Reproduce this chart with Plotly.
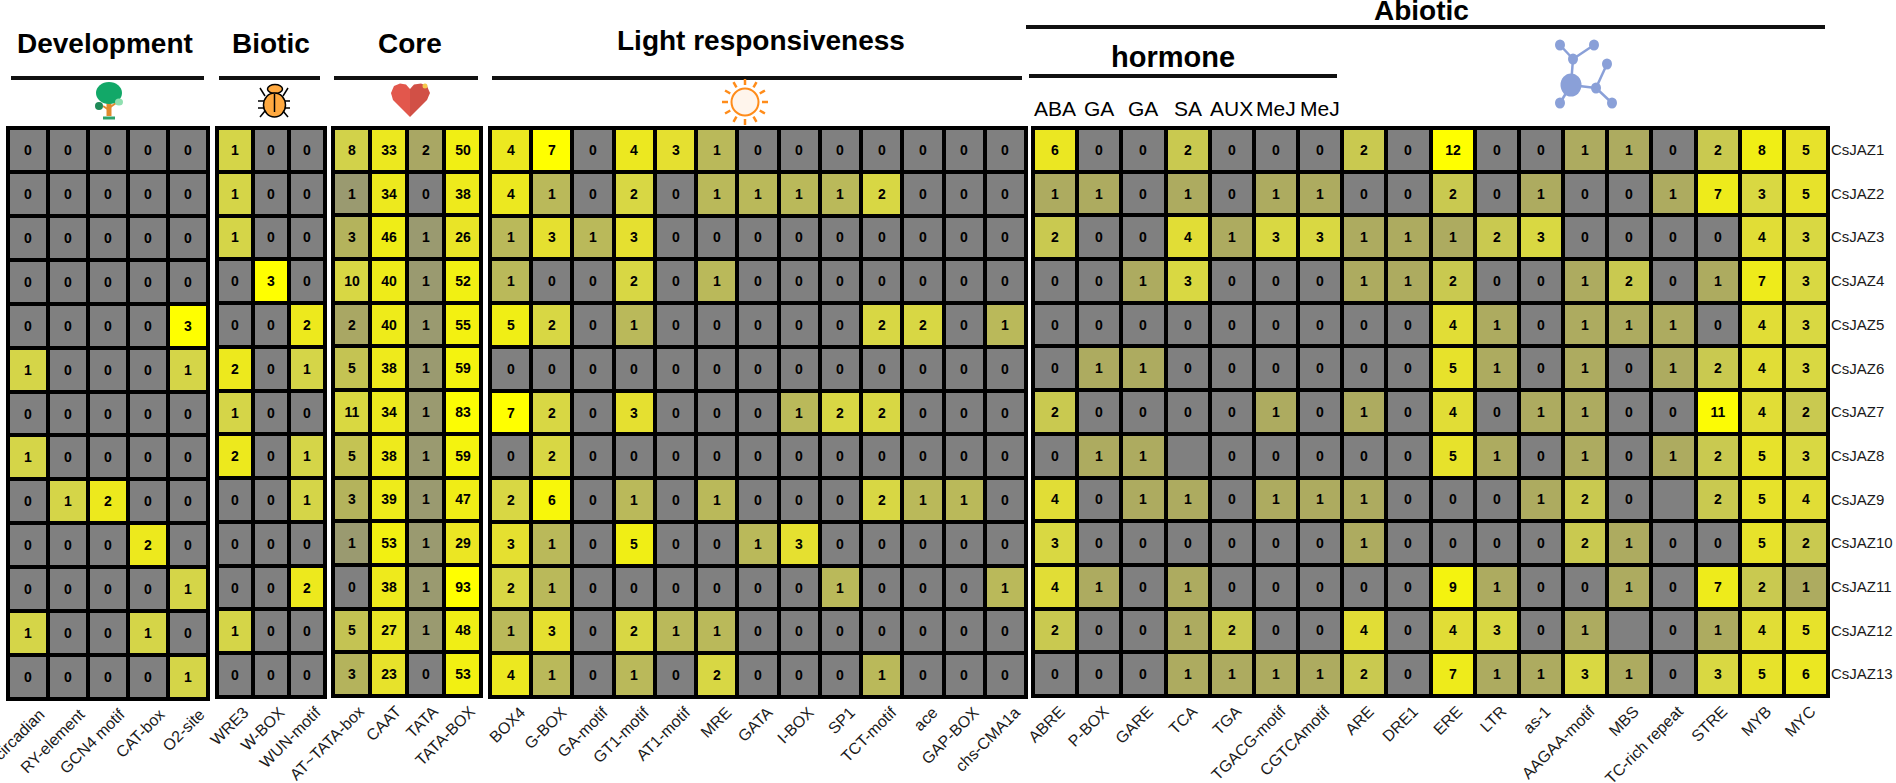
import math
import numpy as np
import plotly.graph_objects as go

W, H = 1896, 783

genes = ['CsJAZ1', 'CsJAZ2', 'CsJAZ3', 'CsJAZ4', 'CsJAZ5', 'CsJAZ6', 'CsJAZ7',
         'CsJAZ8', 'CsJAZ9', 'CsJAZ10', 'CsJAZ11', 'CsJAZ12', 'CsJAZ13']

dev_motifs = ['circadian', 'RY-element', 'GCN4 motif', 'CAT-box', 'O2-site']
dev_values = [
    [0, 0, 0, 0, 0],
    [0, 0, 0, 0, 0],
    [0, 0, 0, 0, 0],
    [0, 0, 0, 0, 0],
    [0, 0, 0, 0, 3],
    [1, 0, 0, 0, 1],
    [0, 0, 0, 0, 0],
    [1, 0, 0, 0, 0],
    [0, 1, 2, 0, 0],
    [0, 0, 0, 2, 0],
    [0, 0, 0, 0, 1],
    [1, 0, 0, 1, 0],
    [0, 0, 0, 0, 1],
]

biotic_motifs = ['WRE3', 'W-BOX', 'WUN-motif']
biotic_values = [
    [1, 0, 0],
    [1, 0, 0],
    [1, 0, 0],
    [0, 3, 0],
    [0, 0, 2],
    [2, 0, 1],
    [1, 0, 0],
    [2, 0, 1],
    [0, 0, 1],
    [0, 0, 0],
    [0, 0, 2],
    [1, 0, 0],
    [0, 0, 0],
]

core_motifs = ['AT~TATA-box', 'CAAT', 'TATA', 'TATA-BOX']
core_values = [
    [8, 33, 2, 50],
    [1, 34, 0, 38],
    [3, 46, 1, 26],
    [10, 40, 1, 52],
    [2, 40, 1, 55],
    [5, 38, 1, 59],
    [11, 34, 1, 83],
    [5, 38, 1, 59],
    [3, 39, 1, 47],
    [1, 53, 1, 29],
    [0, 38, 1, 93],
    [5, 27, 1, 48],
    [3, 23, 0, 53],
]

light_motifs = ['BOX4', 'G-BOX', 'GA-motif', 'GT1-motif', 'AT1-motif', 'MRE', 'GATA',
                'I-BOX', 'SP1', 'TCT-motif', 'ace', 'GAP-BOX', 'chs-CMA1a']
light_values = [
    [4, 7, 0, 4, 3, 1, 0, 0, 0, 0, 0, 0, 0],
    [4, 1, 0, 2, 0, 1, 1, 1, 1, 2, 0, 0, 0],
    [1, 3, 1, 3, 0, 0, 0, 0, 0, 0, 0, 0, 0],
    [1, 0, 0, 2, 0, 1, 0, 0, 0, 0, 0, 0, 0],
    [5, 2, 0, 1, 0, 0, 0, 0, 0, 2, 2, 0, 1],
    [0, 0, 0, 0, 0, 0, 0, 0, 0, 0, 0, 0, 0],
    [7, 2, 0, 3, 0, 0, 0, 1, 2, 2, 0, 0, 0],
    [0, 2, 0, 0, 0, 0, 0, 0, 0, 0, 0, 0, 0],
    [2, 6, 0, 1, 0, 1, 0, 0, 0, 2, 1, 1, 0],
    [3, 1, 0, 5, 0, 0, 1, 3, 0, 0, 0, 0, 0],
    [2, 1, 0, 0, 0, 0, 0, 0, 1, 0, 0, 0, 1],
    [1, 3, 0, 2, 1, 1, 0, 0, 0, 0, 0, 0, 0],
    [4, 1, 0, 1, 0, 2, 0, 0, 0, 1, 0, 0, 0],
]

abiotic_motifs = ['ABRE', 'P-BOX', 'GARE', 'TCA', 'TGA', 'TGACG-motif', 'CGTCAmotif', 'ARE', 'DRE1',
                  'ERE', 'LTR', 'as-1', 'AAGAA-motif', 'MBS', 'TC-rich repeat', 'STRE', 'MYB', 'MYC']
# None = cell drawn grey with no number in the original
abiotic_values = [
    [6, 0, 0, 2, 0, 0, 0, 2, 0, 12, 0, 0, 1, 1, 0, 2, 8, 5],
    [1, 1, 0, 1, 0, 1, 1, 0, 0, 2, 0, 1, 0, 0, 1, 7, 3, 5],
    [2, 0, 0, 4, 1, 3, 3, 1, 1, 1, 2, 3, 0, 0, 0, 0, 4, 3],
    [0, 0, 1, 3, 0, 0, 0, 1, 1, 2, 0, 0, 1, 2, 0, 1, 7, 3],
    [0, 0, 0, 0, 0, 0, 0, 0, 0, 4, 1, 0, 1, 1, 1, 0, 4, 3],
    [0, 1, 1, 0, 0, 0, 0, 0, 0, 5, 1, 0, 1, 0, 1, 2, 4, 3],
    [2, 0, 0, 0, 0, 1, 0, 1, 0, 4, 0, 1, 1, 0, 0, 11, 4, 2],
    [0, 1, 1, None, 0, 0, 0, 0, 0, 5, 1, 0, 1, 0, 1, 2, 5, 3],
    [4, 0, 1, 1, 0, 1, 1, 1, 0, 0, 0, 1, 2, 0, None, 2, 5, 4],
    [3, 0, 0, 0, 0, 0, 0, 1, 0, 0, 0, 0, 2, 1, 0, 0, 5, 2],
    [4, 1, 0, 1, 0, 0, 0, 0, 0, 9, 1, 0, 0, 1, 0, 7, 2, 1],
    [2, 0, 0, 1, 2, 0, 0, 4, 0, 4, 3, 0, 1, None, 0, 1, 4, 5],
    [0, 0, 0, 1, 1, 1, 1, 2, 0, 7, 1, 1, 3, 1, 0, 3, 5, 6],
]

hormone_labels = ['ABA', 'GA', 'GA', 'SA', 'AUX', 'MeJ', 'MeJ']

# x0, x1, y0, y1 of each black panel in page pixels, then the shift of its motif labels
panels = [
    (dev_motifs, dev_values, 6, 210, 126, 701, 12),
    (biotic_motifs, biotic_values, 215, 327, 126, 699, 9),
    (core_motifs, core_values, 331, 483, 126, 698, 8),
    (light_motifs, light_values, 488, 1028, 126, 699, 10),
    (abiotic_motifs, abiotic_values, 1031, 1830, 126, 698, 5),
]

grey_yellow = [[0, '#808080'], [0.15, '#9A9A70'], [0.27, '#ADAB60'], [0.33, '#B9B85A'],
               [0.5, '#D5D548'], [0.67, '#E5E030'], [0.77, '#ECE820'], [0.86, '#F0EE15'],
               [1, '#FFFF00']]

FONT = 'Liberation Sans'
fig = go.Figure()
layout = {}


def px(x):
    return x / W


def py(y):
    return 1 - y / H


for i, (motifs, values, x0, x1, y0, y1, shift) in enumerate(panels):
    n = i + 1
    suffix = '' if n == 1 else str(n)
    nums = np.array([[0 if v is None else v for v in row] for row in values], dtype=float)
    labels = [['' if v is None else str(v) for v in row] for row in values]
    fig.add_trace(go.Heatmap(
        x=motifs, y=genes, z=np.log1p(nums).tolist(), text=labels, texttemplate='%{text}',
        textfont=dict(family=FONT, size=14, color='black', weight='bold'),
        colorscale=grey_yellow, zmin=0, zmax=float(np.log1p(nums.max())), showscale=False,
        xgap=4, ygap=4, xaxis='x' + suffix, yaxis='y' + suffix, hoverinfo='skip',
    ))
    pitch_x = (x1 - x0 - 4) / len(motifs)
    pitch_y = (y1 - y0 - 4) / len(genes)
    pad_x = 2 / pitch_x
    pad_y = 2 / pitch_y
    layout['xaxis' + suffix] = dict(
        domain=[px(x0), px(x1)], anchor='y' + suffix, range=[-0.5 - pad_x, len(motifs) - 0.5 + pad_x],
        type='category', showgrid=False, zeroline=False, showline=False, ticks='',
        tickangle=-45, tickfont=dict(family=FONT, size=16, color='#1a1a1a'),
        ticklabelstandoff=0, ticklabelshift=shift, tickmode='array', tickvals=motifs, ticktext=motifs,
    )
    layout['yaxis' + suffix] = dict(
        domain=[py(y1), py(y0)], anchor='x' + suffix, range=[len(genes) - 0.5 + pad_y, -0.5 - pad_y],
        type='category', showgrid=False, zeroline=False, showline=False, ticks='',
        showticklabels=(n == 5), side='right',
        tickfont=dict(family=FONT, size=15, color='#1a1a1a'),
    )

annotations = []
for text, x, y, size in [('Development', 105, 44, 28), ('Biotic', 271, 44, 28), ('Core', 410, 44, 28),
                         ('Light responsiveness', 761, 41, 28), ('Abiotic', 1421, 11, 28),
                         ('hormone', 1173, 57, 29)]:
    annotations.append(dict(text='<b>%s</b>' % text, x=px(x), y=py(y), xref='paper', yref='paper',
                            showarrow=False, xanchor='center', yanchor='middle',
                            font=dict(family=FONT, size=size, color='black')))

for motif, lab in zip(abiotic_motifs, hormone_labels):
    annotations.append(dict(text=lab, x=motif, y=py(108), xref='x5', yref='paper', showarrow=False,
                            xanchor='center', yanchor='middle',
                            font=dict(family=FONT, size=21, color='black')))

shapes = []


def hline(x0, x1, y, w=4):
    shapes.append(dict(type='line', xref='paper', yref='paper', x0=px(x0), x1=px(x1), y0=py(y), y1=py(y),
                       line=dict(color='#111111', width=w)))


def seg(x0, y0, x1, y1, color, w=2):
    shapes.append(dict(type='line', xref='paper', yref='paper', x0=px(x0), x1=px(x1), y0=py(y0), y1=py(y1),
                       line=dict(color=color, width=w)))


def oval(cx, cy, rx, ry, fill, line=None, w=0):
    shapes.append(dict(type='circle', xref='paper', yref='paper', x0=px(cx - rx), x1=px(cx + rx),
                       y0=py(cy + ry), y1=py(cy - ry), fillcolor=fill,
                       line=dict(color=line or fill, width=w)))


def poly(points, fill):
    d = 'M ' + ' L '.join('%.5f %.5f' % (px(x), py(y)) for x, y in points) + ' Z'
    shapes.append(dict(type='path', path=d, xref='paper', yref='paper', fillcolor=fill, line=dict(width=0)))


hline(11, 204, 78)
hline(219, 320, 78)
hline(334, 478, 78)
hline(492, 1022, 78)
hline(1029, 1337, 76)
hline(1026, 1825, 27)

# tree
seg(109, 100, 109, 116, '#E08A2E', 5)
seg(109, 110, 103, 106, '#E08A2E', 2)
seg(109, 108, 116, 103, '#E08A2E', 2)
seg(103, 118, 115, 118, '#2EA36A', 3)
oval(109, 93, 13, 11, '#12A868')
oval(99, 106, 4, 4, '#1F8A58')
oval(119, 102, 4, 3.5, '#8FE0B0')

# beetle
for y, dx in [(101, 16), (108, 16)]:
    seg(274 - dx, y, 274 + dx, y, 'black', 1.5)
seg(265, 96, 260, 88, 'black', 1.5)
seg(283, 96, 288, 88, 'black', 1.5)
seg(265, 111, 260, 117, 'black', 1.5)
seg(283, 111, 288, 117, 'black', 1.5)
oval(275, 89, 7.5, 4.5, '#FFA940', 'black', 1.5)
oval(274.5, 105, 11, 12, '#FFA940', 'black', 1.5)
seg(274.5, 94, 274.5, 112, 'black', 1.5)

# heart, its right half a little darker
left = [(410, 117), (393, 100), (391, 93), (394, 86), (400, 83.5), (406, 84.5), (410, 89)]
right = [(410, 117), (427, 100), (430, 93), (427, 86), (421, 83.5), (414, 84.5), (410, 89)]
poly(left, '#E2574C')
poly(right, '#D15046')
oval(425, 86, 2.5, 2.5, '#F5C84C')

# sun
for k in range(12):
    a = math.radians(30 * k)
    seg(745 + 17 * math.cos(a), 102 + 17 * math.sin(a), 745 + 23 * math.cos(a), 102 + 23 * math.sin(a),
        '#FF8C1A', 2.5)
oval(745, 102, 13.5, 13.5, '#FFF5EC', '#FF8C1A', 2)

# molecule
for a, b, c, d in [(1560, 45, 1573, 59), (1594, 45, 1573, 59), (1573, 59, 1571, 85), (1571, 85, 1596, 88),
                   (1596, 88, 1607, 64), (1596, 88, 1612, 103), (1571, 85, 1560, 103)]:
    seg(a, b, c, d, '#8AA0D8', 2.5)
oval(1571, 85, 10.5, 11.5, '#8AA0D8')
for cx, cy in [(1560, 45), (1594, 45), (1573, 59), (1607, 64), (1596, 88), (1612, 103), (1560, 103)]:
    oval(cx, cy, 5, 5.5, '#8AA0D8')

fig.update_layout(
    width=W, height=H, autosize=False, margin=dict(l=0, r=0, t=0, b=0, autoexpand=False),
    paper_bgcolor='white', plot_bgcolor='black', showlegend=False,
    annotations=annotations, shapes=shapes, **layout,
)

fig.write_html("out.html", config={'displayModeBar': False},
               post_script="document.body.style.margin='0';document.body.style.overflow='hidden';")
